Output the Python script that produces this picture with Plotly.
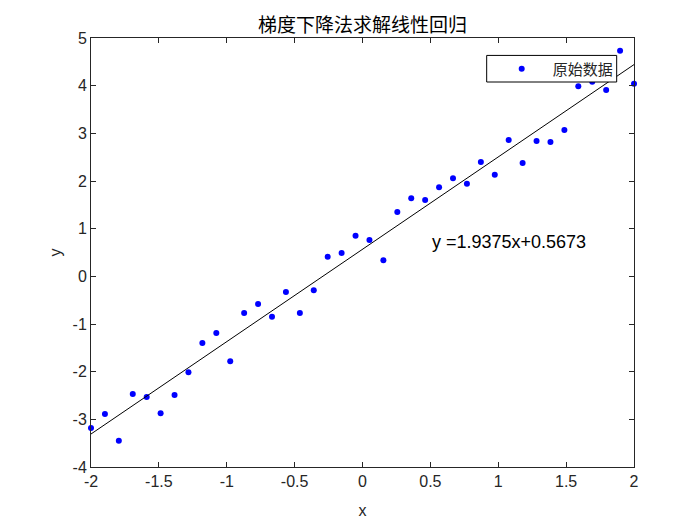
import plotly.graph_objects as go

# data
x_data = [-2.0, -1.8974, -1.7949, -1.6923, -1.5897, -1.4872, -1.3846, -1.2821, -1.1795, -1.0769,
          -0.9744, -0.8718, -0.7692, -0.6667, -0.5641, -0.4615, -0.3590, -0.2564, -0.1538, -0.0513,
          0.0513, 0.1538, 0.2564, 0.3590, 0.4615, 0.5641, 0.6667, 0.7692, 0.8718, 0.9744,
          1.0769, 1.1795, 1.2821, 1.3846, 1.4872, 1.5897, 1.6923, 1.7949, 1.8974, 2.0]
y_data = [-3.18, -2.89, -3.45, -2.47, -2.53, -2.87, -2.49, -2.01, -1.40, -1.19,
          -1.78, -0.77, -0.58, -0.85, -0.33, -0.77, -0.29, 0.41, 0.49, 0.85,
          0.76, 0.34, 1.35, 1.64, 1.60, 1.87, 2.06, 1.94, 2.40, 2.13,
          2.86, 2.38, 2.84, 2.82, 3.07, 3.99, 4.08, 3.91, 4.73, 4.04]
slope = 1.9375
intercept = 0.5673
fit_x = [-2, 2]
fit_y = [slope * v + intercept for v in fit_x]

title_text = "梯度下降法求解线性回归"
legend_name = "原始数据"
eq_text = "y =%.4fx+%.4f" % (slope, intercept)
x_ticks = [-2, -1.5, -1, -0.5, 0, 0.5, 1, 1.5, 2]
y_ticks = [-4, -3, -2, -1, 0, 1, 2, 3, 4, 5]

AX = "#262626"
SANS = "Liberation Sans, Arial, sans-serif"
CJK = "Noto Sans CJK SC, sans-serif"

fig = go.Figure()
fig.add_trace(go.Scatter(x=x_data, y=y_data, mode="markers", name=legend_name,
                         marker=dict(color="#0000ff", size=6), cliponaxis=False))
fig.add_trace(go.Scatter(x=fit_x, y=fit_y, mode="lines", showlegend=False,
                         line=dict(color="black", width=1)))

fig.add_annotation(x=0.5, y=0.72, xref="x", yref="y", text=eq_text, showarrow=False,
                   xanchor="left", yanchor="middle",
                   font=dict(family=SANS, size=18, color="black"))

# legend frame (opaque white box like the original)
fig.add_shape(type="rect", xref="paper", yref="paper",
              x0=0.7287, x1=0.9681, y0=0.8974, y1=0.9594,
              line=dict(color="black", width=1), fillcolor="white", layer="above")

axis_common = dict(showline=True, linecolor=AX, linewidth=1, mirror="ticks",
                   ticks="inside", ticklen=5, tickcolor=AX, showgrid=False, zeroline=False,
                   tickfont=dict(family=SANS, size=16, color=AX))

fig.update_layout(
    width=700, height=525,
    margin=dict(l=83, r=74, t=30, b=66),
    paper_bgcolor="white", plot_bgcolor="white",
    title=dict(text=title_text, x=0.5, xref="paper", y=1 - 17.7 / 525, yref="container",
               xanchor="center", yanchor="middle",
               font=dict(family=CJK, size=19, color="black")),
    xaxis=dict(range=[-2, 2], tickvals=x_ticks, ticktext=[("%g" % v) for v in x_ticks],
               title=dict(text="x", font=dict(family=SANS, size=16, color=AX), standoff=15),
               **axis_common),
    yaxis=dict(range=[-4, 5], tickvals=y_ticks, ticktext=[str(v) for v in y_ticks],
               title=dict(text="y", font=dict(family=SANS, size=16, color=AX), standoff=6),
               **axis_common),
    legend=dict(x=0.7361, y=0.9277, xanchor="left", yanchor="middle",
                bgcolor="rgba(0,0,0,0)", borderwidth=0,
                font=dict(family=CJK, size=15, color="#262626"), itemwidth=52,
                tracegroupgap=0),
    showlegend=True,
)

fig.write_html("out.html")
